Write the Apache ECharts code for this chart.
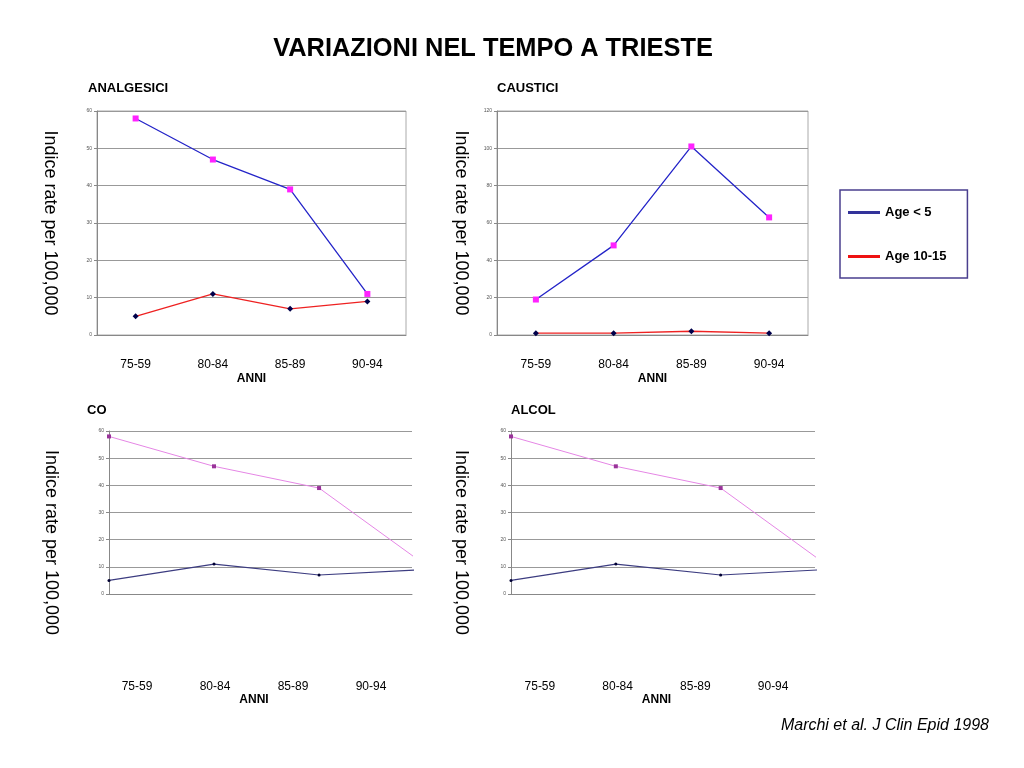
<!DOCTYPE html>
<html>
<head>
<meta charset="utf-8">
<script src="https://cdn.jsdelivr.net/npm/echarts@6/dist/echarts.min.js"></script>
<style>html,body{margin:0;padding:0;background:#fff}#c{width:1024px;height:768px}</style>
</head>
<body>
<div id="c"></div>
<script>
// ---- data ----
var years = ['75-59', '80-84', '85-89', '90-94'];
var analgesiciYoung = [58, 47, 39, 11];
var analgesiciTeen = [5, 11, 7, 9];
var causticiYoung = [19, 48, 101, 63];
var causticiTeen = [1, 1, 2, 1];
var coYoung = [58, 47, 39, 11];
var coTeen = [5, 11, 7, 9];
var alcolYoung = [58, 47, 39, 11];
var alcolTeen = [5, 11, 7, 9];
var ticks60 = [0, 10, 20, 30, 40, 50, 60];
var ticks120 = [0, 20, 40, 60, 80, 100, 120];

var FONT = 'Liberation Sans';
var yName = 'Indice rate per 100,000';

function pairs(arr) { return arr.map(function (v, i) { return [i, v]; }); }

function yAxisCfg(gridIndex, ticks, gap, pad) {
  return {
    type: 'value', gridIndex: gridIndex,
    min: ticks[0], max: ticks[ticks.length - 1], interval: ticks[1] - ticks[0],
    name: yName, nameLocation: 'middle', nameRotate: -90, nameGap: gap,
    nameTextStyle: { fontFamily: FONT, fontSize: 18, color: '#000', padding: pad || 0 },
    axisLine: { show: true, lineStyle: { color: '#888', width: 1 } },
    axisTick: { show: true, length: 3, lineStyle: { color: '#888' } },
    axisLabel: { fontFamily: FONT, fontSize: 5, color: '#555', margin: 5 },
    splitLine: { show: true, lineStyle: { color: '#999', width: 1 } }
  };
}

function catAxis(gridIndex, margin, nameGap, showLine) {
  return {
    type: 'category', gridIndex: gridIndex, data: years, boundaryGap: true,
    name: 'ANNI', nameLocation: 'middle', nameGap: nameGap,
    nameTextStyle: { fontFamily: FONT, fontSize: 12, fontWeight: 'bold', color: '#000' },
    axisLine: { show: showLine, lineStyle: { color: '#888' } },
    axisTick: { show: false },
    axisLabel: { fontFamily: FONT, fontSize: 12, color: '#000', margin: margin },
    splitLine: { show: false }
  };
}

function valXAxis(gridIndex, max) {
  return {
    type: 'value', gridIndex: gridIndex, min: 0, max: max,
    axisLine: { show: true, onZero: false, lineStyle: { color: '#888' } },
    axisTick: { show: false }, axisLabel: { show: false }, splitLine: { show: false }
  };
}

var topYoungStyle = {
  type: 'line', name: 'Age < 5', symbol: 'rect', symbolSize: 6,
  lineStyle: { color: '#2424c8', width: 1.3 }, itemStyle: { color: '#ff22ff' }
};
var topTeenStyle = {
  type: 'line', name: 'Age 10-15', symbol: 'diamond', symbolSize: 6,
  lineStyle: { color: '#ee2222', width: 1.3 }, itemStyle: { color: '#00004a' }
};
var botYoungStyle = {
  type: 'line', name: 'Age < 5', symbol: 'rect', symbolSize: 4, clip: true,
  lineStyle: { color: '#e586e5', width: 1 }, itemStyle: { color: '#993399' }
};
var botTeenStyle = {
  type: 'line', name: 'Age 10-15', symbol: 'circle', symbolSize: 3, clip: true,
  lineStyle: { color: '#3c3c80', width: 1.2 }, itemStyle: { color: '#000033' }
};

function ser(base, x, y, data) {
  var s = Object.assign({}, base);
  s.xAxisIndex = x; s.yAxisIndex = y; s.data = data;
  s.silent = true;
  return s;
}

var subStyle = { fontFamily: FONT, fontSize: 13, fontWeight: 'bold', color: '#000' };

var option = {
  animation: false,
  backgroundColor: '#fff',
  title: [
    { text: 'VARIAZIONI NEL TEMPO A TRIESTE', left: 493, top: 36, textAlign: 'center',
      textStyle: { fontFamily: FONT, fontSize: 25.4, fontWeight: 'bold', color: '#000' }, padding: 0 },
    { text: 'ANALGESICI', left: 88, top: 82, padding: 0, textStyle: subStyle },
    { text: 'CAUSTICI', left: 497, top: 82, padding: 0, textStyle: subStyle },
    { text: 'CO', left: 87, top: 404, padding: 0, textStyle: subStyle },
    { text: 'ALCOL', left: 511, top: 404, padding: 0, textStyle: subStyle },
    { text: 'Marchi et al. J Clin Epid 1998', right: 35, top: 718, padding: 0,
      textStyle: { fontFamily: FONT, fontSize: 16, fontStyle: 'italic', fontWeight: 'normal', color: '#000' } }
  ],
  legend: {
    orient: 'vertical', left: 840, top: 190,
    padding: [16, 21, 15, 8], itemGap: 31,
    itemWidth: 32, itemHeight: 3,
    borderColor: '#4a3f8e', borderWidth: 1.5,
    selectedMode: false,
    textStyle: { fontFamily: FONT, fontSize: 13, fontWeight: 'bold', color: '#000' },
    data: [
      { name: 'Age < 5', icon: 'rect', itemStyle: { color: '#33339a' } },
      { name: 'Age 10-15', icon: 'rect', itemStyle: { color: '#ee1111' } }
    ]
  },
  grid: [
    { left: 97, right: 618, top: 111, bottom: 433, show: true, borderColor: '#aaa', borderWidth: 1 },
    { left: 497, right: 216, top: 111, bottom: 433, show: true, borderColor: '#aaa', borderWidth: 1 },
    { left: 109, right: 612, top: 431, bottom: 174 },
    { left: 511, right: 209, top: 431, bottom: 174 },
    { left: 98, width: 312, top: 672, height: 1 },
    { left: 501, width: 311, top: 672, height: 1 }
  ],
  xAxis: [
    catAxis(0, 24, 38, true),
    catAxis(1, 24, 38, true),
    valXAxis(2, 2.885),
    valXAxis(3, 2.9),
    catAxis(4, 8, 21, false),
    catAxis(5, 8, 21, false)
  ],
  yAxis: [
    yAxisCfg(0, ticks60, 38, [0, 0, 0, 0]),
    yAxisCfg(1, ticks120, 27),
    yAxisCfg(2, ticks60, 49, [0, 0, 0, 60]),
    yAxisCfg(3, ticks60, 41, [0, 0, 0, 60]),
    { type: 'value', gridIndex: 4, show: false },
    { type: 'value', gridIndex: 5, show: false }
  ],
  series: [
    ser(topYoungStyle, 0, 0, analgesiciYoung),
    ser(topTeenStyle, 0, 0, analgesiciTeen),
    ser(topYoungStyle, 1, 1, causticiYoung),
    ser(topTeenStyle, 1, 1, causticiTeen),
    ser(botYoungStyle, 2, 2, pairs(coYoung)),
    ser(botTeenStyle, 2, 2, pairs(coTeen)),
    ser(botYoungStyle, 3, 3, pairs(alcolYoung)),
    ser(botTeenStyle, 3, 3, pairs(alcolTeen))
  ]
};

var chart = echarts.init(document.getElementById('c'), null, { renderer: 'canvas' });
chart.setOption(option);
</script>
</body>
</html>
